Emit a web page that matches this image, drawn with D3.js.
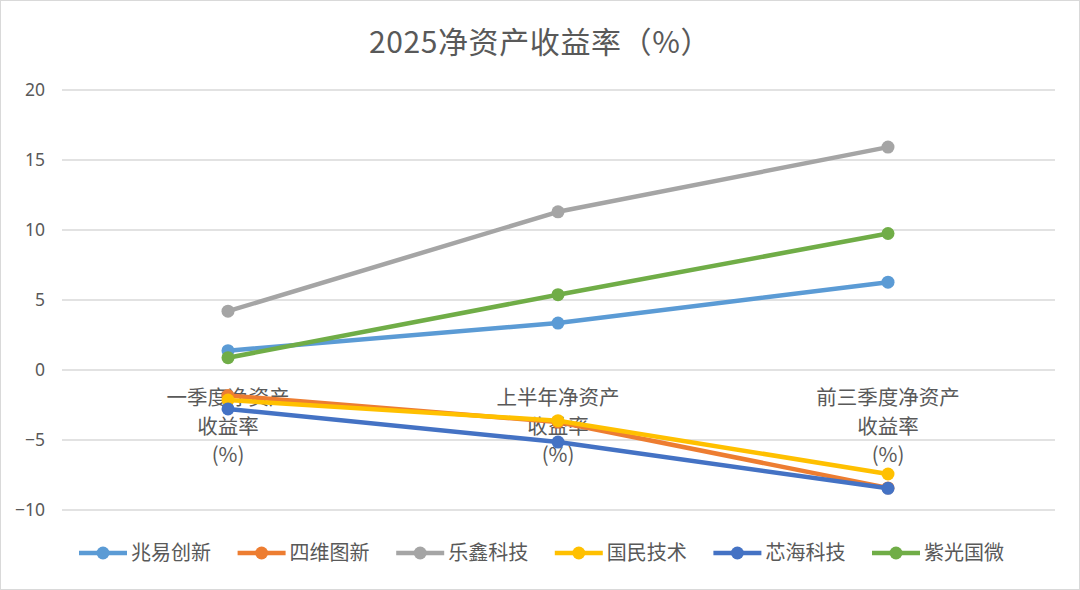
<!DOCTYPE html>
<html>
<head>
<meta charset="utf-8">
<script src="https://cdn.jsdelivr.net/npm/d3@7/dist/d3.min.js"></script>
<style>
  html, body { margin: 0; padding: 0; background: #fff; }
  svg { display: block; font-family: "Noto Sans CJK SC", "Noto Sans", sans-serif; }
</style>
</head>
<body>
<div id="chart"></div>
<script>
(function (d3) {
    'use strict';

    var categories = ['一季度净资产收益率(%)', '上半年净资产收益率(%)', '前三季度净资产收益率(%)'];
    var categoryLines = [
        ['一季度净资产', '收益率', '(%)'],
        ['上半年净资产', '收益率', '(%)'],
        ['前三季度净资产', '收益率', '(%)']
    ];
    var seriesNames = ['兆易创新', '四维图新', '乐鑫科技', '国民技术', '芯海科技', '紫光国微'];
    var seriesColors = ['#5B9BD5', '#ED7D31', '#A5A5A5', '#FFC000', '#4472C4', '#70AD47'];

    var zhaoyi = [1.38, 3.35, 6.27];
    var siwei = [-1.82, -3.72, -8.42];
    var lexin = [4.2, 11.3, 15.92];
    var guomin = [-2.15, -3.62, -7.43];
    var xinhai = [-2.78, -5.15, -8.45];
    var ziguang = [0.88, 5.38, 9.75];
    var yTicks = [-10, -5, 0, 5, 10, 15, 20];

    var allValues = [zhaoyi, siwei, lexin, guomin, xinhai, ziguang];

    var width = 1080,
        height = 590,
        textColor = '#595959';

    var svg = d3.select('#chart').append('svg')
        .attr('width', width)
        .attr('height', height);

    svg.append('rect')
        .attr('x', 0.5).attr('y', 0.5)
        .attr('width', width - 1).attr('height', height - 1)
        .attr('fill', '#fff')
        .attr('stroke', '#d9d9d9');

    svg.append('text')
        .attr('x', 540)
        .attr('y', 53)
        .attr('text-anchor', 'middle')
        .attr('fill', textColor)
        .attr('font-size', 30)
        .attr('letter-spacing', 0.6)
        .text('2025净资产收益率（%）');

    var x = d3.scaleBand()
        .domain(categories)
        .range([63, 1053]);

    var y = d3.scaleLinear()
        .domain([-10, 20])
        .range([510, 90]);

    // gridlines
    svg.append('g').selectAll('line')
        .data(yTicks)
        .enter().append('line')
        .attr('x1', 62).attr('x2', 1055)
        .attr('y1', function (d) { return y(d); })
        .attr('y2', function (d) { return y(d); })
        .attr('stroke', '#d9d9d9')
        .attr('stroke-width', 1.3);

    var yAxis = svg.append('g')
        .attr('transform', 'translate(45,0)')
        .call(d3.axisLeft(y).tickValues(yTicks).tickSize(0).tickPadding(0));
    yAxis.select('.domain').remove();
    yAxis.selectAll('text')
        .attr('fill', textColor)
        .attr('font-size', 17.5)
        .attr('font-family', '"Noto Sans", sans-serif');

    // category labels, wrapped like the original
    var catGroup = svg.append('g').selectAll('text')
        .data(categories)
        .enter().append('text')
        .attr('text-anchor', 'middle')
        .attr('fill', textColor)
        .attr('font-size', 20.5)
        .attr('transform', function (d) {
            return 'translate(' + (x(d) + x.bandwidth() / 2) + ',' + (y(0) + 35) + ')';
        });
    catGroup.each(function (d, i) {
        d3.select(this).selectAll('tspan')
            .data(categoryLines[i])
            .enter().append('tspan')
            .attr('x', 0)
            .attr('dy', function (t, j) { return j === 0 ? 0 : 28.5; })
            .text(function (t) { return t; });
    });

    var cx = function (d, i) { return x(categories[i]) + x.bandwidth() / 2; };

    var line = d3.line()
        .x(cx)
        .y(function (d) { return y(d); });

    var series = svg.append('g').selectAll('g')
        .data(allValues)
        .enter().append('g');

    series.append('path')
        .attr('d', function (d) { return line(d); })
        .attr('fill', 'none')
        .attr('stroke', function (d, i) { return seriesColors[i]; })
        .attr('stroke-width', 4.5)
        .attr('stroke-linejoin', 'round')
        .attr('stroke-linecap', 'round');

    series.each(function (vals, s) {
        d3.select(this).selectAll('circle')
            .data(vals)
            .enter().append('circle')
            .attr('cx', cx)
            .attr('cy', function (d) { return y(d); })
            .attr('r', 6.5)
            .attr('fill', seriesColors[s]);
    });

    // legend
    var legend = svg.append('g').selectAll('g')
        .data(seriesNames)
        .enter().append('g')
        .attr('transform', function (d, i) { return 'translate(' + (79 + i * 158.6) + ',553)'; });

    legend.append('line')
        .attr('x1', 0).attr('x2', 48)
        .attr('stroke', function (d, i) { return seriesColors[i]; })
        .attr('stroke-width', 4.5);
    legend.append('circle')
        .attr('cx', 24)
        .attr('r', 6.5)
        .attr('fill', function (d, i) { return seriesColors[i]; });
    legend.append('text')
        .attr('x', 52)
        .attr('dy', '0.35em')
        .attr('fill', textColor)
        .attr('font-size', 20)
        .text(function (d) { return d; });
})(d3);
</script>
</body>
</html>
